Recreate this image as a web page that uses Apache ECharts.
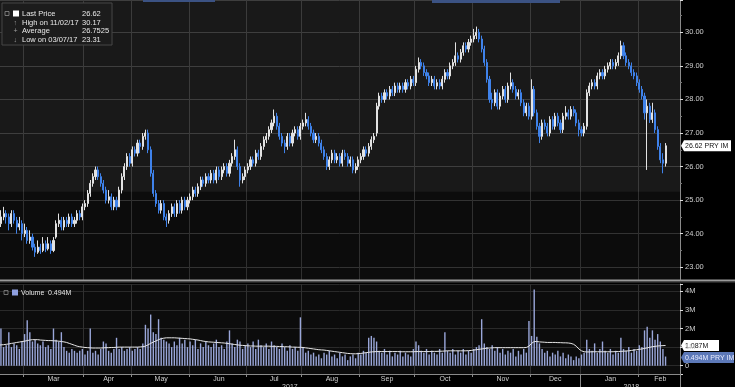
<!DOCTYPE html>
<html><head><meta charset="utf-8">
<script src="https://cdn.jsdelivr.net/npm/echarts@6/dist/echarts.min.js"></script>
<style>html,body{margin:0;padding:0;background:#000;overflow:hidden}#c{width:735px;height:387px;}</style>
</head><body><div id="c"></div>
<script>
// ---------- categories (Borsa Italiana trading days) ----------
const firstDay = '2017-02-15';
const tradingDays = 255;
const padDays = 5;
const holidays = ['2017-04-14','2017-04-17','2017-05-01','2017-08-15','2017-12-25','2017-12-26','2018-01-01'];
const monthNames = ['Jan','Feb','Mar','Apr','May','Jun','Jul','Aug','Sep','Oct','Nov','Dec'];

// ---------- price data ----------
const open = [
24.2,24.3,24.5,24.6,24.5,24.3,24.6,24.4,24.2,24.3,
24.0,24.1,23.8,23.9,23.6,23.45,23.6,23.5,23.7,23.55,
23.7,23.5,23.9,24.3,24.4,24.2,24.4,24.3,24.5,24.3,
24.4,24.6,24.5,24.8,24.9,25.2,25.5,25.7,25.9,25.7,
25.5,25.3,25.0,25.1,24.8,25.0,24.8,25.3,25.7,26.0,
26.3,26.1,26.5,26.4,26.7,26.6,26.9,27.0,26.5,25.8,
25.2,24.9,24.7,24.9,24.5,24.4,24.6,24.8,24.6,24.9,
24.7,25.0,24.8,25.0,25.1,25.3,25.2,25.4,25.6,25.5,
25.7,25.6,25.8,25.6,25.9,25.7,25.9,26.0,25.8,26.1,
26.3,26.5,26.0,25.6,25.7,25.9,26.0,26.2,26.1,26.4,
26.3,26.6,26.8,26.9,27.1,27.3,27.5,27.2,26.9,26.7,
26.6,26.9,26.7,27.0,27.1,26.9,27.2,27.3,27.4,27.2,
27.0,26.8,26.9,26.7,26.5,26.3,26.0,26.2,26.4,26.2,
26.3,26.1,26.4,26.3,26.1,26.2,25.9,26.0,26.2,26.3,
26.5,26.4,26.6,26.8,27.0,27.8,28.1,28.0,28.2,28.1,
28.3,28.2,28.4,28.3,28.4,28.3,28.5,28.4,28.6,28.5,
28.9,29.1,29.0,28.8,28.7,28.5,28.6,28.4,28.5,28.4,
28.6,28.8,28.7,29.0,29.1,29.3,29.2,29.4,29.6,29.5,
29.7,29.8,29.9,30.0,29.8,29.5,29.1,28.6,28.0,27.9,
28.2,27.8,28.1,28.3,28.0,28.4,28.5,28.3,28.1,28.2,
27.9,27.6,27.8,27.5,28.3,27.6,27.2,26.9,27.3,27.2,
27.0,27.4,27.2,27.5,27.3,27.1,27.5,27.6,27.5,27.7,
27.6,27.3,27.1,27.0,27.2,28.2,28.4,28.5,28.4,28.7,
28.8,28.7,28.9,29.0,29.1,29.0,29.1,29.3,29.6,29.3,
29.1,29.0,28.8,28.7,28.5,28.3,28.1,27.6,27.8,27.4,
27.6,27.1,26.6,26.2,26.1];
const close = [
24.3,24.5,24.6,24.5,24.3,24.6,24.4,24.2,24.3,24.0,
24.1,23.8,23.9,23.6,23.45,23.6,23.5,23.7,23.55,23.7,
23.5,23.8,24.3,24.4,24.2,24.4,24.3,24.5,24.3,24.4,
24.6,24.5,24.8,24.9,25.2,25.5,25.7,25.9,25.7,25.5,
25.3,25.0,25.1,24.8,25.0,24.8,25.3,25.7,26.0,26.3,
26.1,26.5,26.4,26.7,26.6,26.9,27.0,26.5,25.8,25.2,
24.9,24.7,24.9,24.5,24.4,24.6,24.8,24.6,24.9,24.7,
25.0,24.8,25.0,25.1,25.3,25.2,25.4,25.6,25.5,25.7,
25.6,25.8,25.6,25.9,25.7,25.9,26.0,25.8,26.1,26.3,
26.5,26.0,25.6,25.7,25.9,26.0,26.2,26.1,26.4,26.3,
26.6,26.8,26.9,27.1,27.3,27.5,27.2,26.9,26.7,26.6,
26.9,26.7,27.0,27.1,26.9,27.2,27.3,27.4,27.2,27.0,
26.8,26.9,26.7,26.5,26.3,26.0,26.2,26.4,26.2,26.3,
26.1,26.4,26.3,26.1,26.2,25.9,26.0,26.2,26.3,26.5,
26.4,26.6,26.8,26.9,27.8,28.1,28.0,28.2,28.1,28.3,
28.2,28.4,28.3,28.4,28.3,28.5,28.4,28.6,28.5,28.9,
29.1,29.0,28.8,28.7,28.5,28.6,28.4,28.5,28.4,28.6,
28.8,28.7,29.0,29.1,29.3,29.2,29.4,29.6,29.5,29.7,
29.8,29.9,30.0,29.8,29.5,29.1,28.6,28.0,27.9,28.2,
27.8,28.1,28.3,28.0,28.4,28.5,28.3,28.1,28.2,27.9,
27.6,27.8,27.5,28.3,27.6,27.2,26.9,27.3,27.2,27.0,
27.4,27.2,27.5,27.3,27.1,27.5,27.6,27.5,27.7,27.6,
27.3,27.1,27.0,27.2,28.2,28.4,28.5,28.4,28.7,28.8,
28.7,28.9,29.0,29.1,29.0,29.1,29.3,29.6,29.3,29.1,
29.0,28.8,28.7,28.5,28.3,28.1,27.6,27.8,27.4,27.6,
27.1,26.6,26.2,26.1,26.62];
const high = [
24.5,24.7,24.8,24.7,24.6,24.7,24.7,24.5,24.5,24.4,
24.3,24.2,24.1,24.0,23.7,23.8,23.7,23.9,23.8,23.9,
23.8,23.9,24.4,24.6,24.5,24.5,24.5,24.6,24.6,24.5,
24.7,24.7,24.9,25.0,25.3,25.6,25.8,26.0,26.0,25.8,
25.6,25.4,25.3,25.2,25.1,25.1,25.4,25.8,26.1,26.4,
26.4,26.6,26.6,26.8,26.8,27.0,27.1,27.1,26.6,25.9,
25.3,25.0,25.0,25.0,24.6,24.7,24.9,24.9,25.0,25.0,
25.1,25.1,25.1,25.2,25.4,25.4,25.5,25.7,25.7,25.8,
25.8,25.9,25.9,26.0,26.0,26.0,26.1,26.1,26.2,26.4,
26.8,26.6,26.1,25.8,26.0,26.1,26.3,26.3,26.5,26.5,
26.7,26.9,27.0,27.2,27.4,27.7,27.6,27.3,27.0,26.8,
27.0,27.0,27.1,27.2,27.2,27.3,27.4,27.6,27.5,27.3,
27.1,27.0,27.0,26.8,26.6,26.4,26.3,26.5,26.5,26.4,
26.4,26.5,26.5,26.4,26.3,26.3,26.1,26.3,26.4,26.6,
26.6,26.7,26.9,27.0,27.9,28.2,28.2,28.3,28.3,28.4,
28.4,28.5,28.5,28.5,28.5,28.6,28.6,28.7,28.7,29.0,
29.25,29.2,29.1,28.9,28.8,28.7,28.7,28.6,28.6,28.7,
28.9,28.9,29.1,29.2,29.7,29.4,29.5,29.7,29.7,29.8,
29.9,30.1,30.17,30.1,29.9,29.6,29.2,28.7,28.2,28.3,
28.3,28.2,28.4,28.4,28.5,28.8,28.6,28.4,28.3,28.3,
28.0,27.9,27.9,28.6,28.4,27.7,27.3,27.4,27.4,27.3,
27.5,27.5,27.6,27.6,27.4,27.6,27.8,27.7,27.8,27.8,
27.7,27.4,27.2,27.3,28.3,28.5,28.6,28.6,28.8,28.9,
28.9,29.0,29.1,29.2,29.2,29.2,29.4,29.75,29.7,29.4,
29.2,29.1,28.9,28.8,28.6,28.4,28.2,28.0,27.9,27.9,
27.7,27.2,26.7,26.4,26.7];
const low = [
24.0,24.2,24.4,24.3,24.1,24.2,24.3,24.0,24.1,23.8,
23.9,23.7,23.7,23.5,23.31,23.4,23.4,23.45,23.45,23.5,
23.4,23.45,23.85,24.2,24.1,24.1,24.2,24.2,24.2,24.2,
24.3,24.4,24.4,24.7,24.8,25.1,25.4,25.6,25.6,25.4,
25.2,24.9,24.9,24.7,24.7,24.7,24.8,25.2,25.6,25.9,
26.0,26.0,26.3,26.3,26.4,26.5,26.8,26.4,25.7,25.1,
24.8,24.6,24.6,24.4,24.2,24.3,24.5,24.5,24.5,24.6,
24.6,24.7,24.7,24.9,25.0,25.1,25.1,25.3,25.4,25.4,
25.5,25.5,25.5,25.5,25.6,25.6,25.8,25.7,25.7,26.0,
26.2,25.9,25.4,25.5,25.6,25.8,25.9,26.0,26.0,26.2,
26.2,26.5,26.7,26.8,27.0,27.2,27.1,26.8,26.6,26.4,
26.5,26.6,26.6,26.9,26.8,26.8,27.1,27.2,27.1,26.9,
26.7,26.7,26.6,26.4,26.2,25.9,25.9,26.1,26.1,26.1,
26.0,26.0,26.2,26.0,26.0,25.8,25.8,25.9,26.1,26.2,
26.3,26.3,26.5,26.7,26.9,27.7,27.9,27.9,28.0,28.0,
28.1,28.1,28.2,28.2,28.2,28.2,28.3,28.3,28.4,28.4,
28.8,28.9,28.7,28.6,28.4,28.4,28.3,28.3,28.3,28.3,
28.5,28.6,28.6,28.9,29.0,29.1,29.1,29.3,29.4,29.4,
29.6,29.7,29.8,29.7,29.4,29.0,28.5,27.9,27.7,27.8,
27.7,27.7,28.0,27.9,27.9,28.3,28.2,28.0,28.0,27.8,
27.5,27.5,27.4,27.4,27.5,27.1,26.7,26.8,27.1,26.9,
26.9,27.1,27.1,27.2,27.0,27.0,27.4,27.4,27.4,27.5,
27.2,26.9,26.9,26.9,27.1,28.1,28.3,28.3,28.3,28.6,
28.6,28.6,28.8,28.9,28.9,28.9,29.0,29.2,29.2,29.0,
28.9,28.7,28.6,28.4,28.2,28.0,27.4,25.9,27.3,27.3,
27.0,26.5,26.1,25.8,26.0];

// ---------- volume (millions) ----------
const volume = [
1.2,2.0,1.0,1.1,1.8,1.0,1.2,1.1,0.9,1.3,
1.7,2.45,1.8,1.3,1.4,1.2,1.1,1.3,1.0,1.1,
0.9,2.0,1.4,1.3,1.8,1.0,0.8,0.7,0.9,0.8,
0.7,0.8,0.9,0.6,0.8,2.0,0.7,0.8,0.6,0.9,
1.3,1.2,0.8,0.7,0.9,1.5,0.9,1.0,0.8,0.9,
1.0,0.8,0.9,1.0,0.9,1.2,2.2,2.0,2.75,1.8,
1.7,2.5,1.5,1.4,1.3,1.2,1.0,1.3,1.1,1.5,
1.2,1.4,1.0,1.3,1.1,1.4,0.9,1.2,1.0,1.3,
1.1,1.0,1.2,1.4,1.0,1.1,0.9,1.3,1.9,1.2,
1.0,1.4,1.3,0.9,1.1,1.2,1.0,1.3,0.9,1.4,
1.1,1.0,1.2,0.9,1.3,1.1,1.0,0.9,1.2,1.0,
0.8,1.1,0.9,1.0,0.8,2.6,1.0,0.7,0.8,0.6,
0.7,0.5,0.6,0.4,0.7,0.6,0.8,0.5,0.6,0.4,
0.7,0.5,0.6,0.3,0.5,0.6,0.4,0.7,0.6,0.8,
0.7,1.5,1.6,1.5,1.3,0.8,0.7,0.9,0.6,0.8,
0.5,0.7,0.6,0.8,0.5,0.7,0.6,0.5,0.9,1.3,
1.1,0.8,0.7,0.9,0.6,0.8,0.7,0.6,0.9,0.7,
1.8,0.8,0.7,0.9,0.6,0.8,0.7,0.9,0.6,0.8,
0.7,0.9,1.0,1.1,2.5,1.2,1.0,0.9,1.1,0.8,
1.0,0.7,0.9,0.6,0.8,0.7,0.9,0.5,0.8,0.6,
0.9,0.7,2.4,1.6,4.1,1.55,1.2,0.9,0.7,0.8,
0.5,0.7,0.6,0.8,0.5,0.7,0.4,0.6,0.5,0.3,
0.5,0.4,0.6,0.7,1.4,0.9,0.8,1.2,0.7,0.9,
1.3,0.8,0.7,0.9,0.6,0.8,0.7,1.5,0.9,0.8,
1.0,0.7,0.9,0.8,1.1,1.0,1.9,2.1,1.5,1.9,
1.4,1.7,1.3,0.9,0.494];
// volume average line (millions)
const volumeAvg = [
1.1,1.12,1.13,1.15,1.17,1.2,1.22,1.25,1.27,1.3,
1.32,1.35,1.38,1.4,1.4,1.4,1.38,1.37,1.36,1.35,
1.35,1.34,1.33,1.32,1.3,1.28,1.25,1.2,1.15,1.1,
1.05,1.02,1.0,0.98,0.97,0.96,0.95,0.95,0.95,0.95,
0.96,0.97,0.97,0.98,0.98,0.99,1.0,1.0,1.0,1.0,
1.0,1.0,1.0,1.0,1.01,1.02,1.05,1.12,1.2,1.27,
1.33,1.4,1.45,1.48,1.5,1.5,1.5,1.5,1.49,1.48,
1.47,1.46,1.45,1.44,1.42,1.4,1.38,1.35,1.32,1.3,
1.28,1.27,1.26,1.25,1.24,1.23,1.22,1.2,1.18,1.16,
1.14,1.12,1.1,1.09,1.08,1.07,1.06,1.06,1.05,1.05,
1.05,1.05,1.05,1.05,1.04,1.04,1.04,1.03,1.03,1.02,
1.02,1.01,1.0,1.0,0.99,0.99,0.98,0.96,0.94,0.92,
0.9,0.88,0.86,0.85,0.84,0.82,0.8,0.78,0.76,0.74,
0.72,0.7,0.68,0.66,0.65,0.64,0.64,0.65,0.66,0.68,
0.7,0.72,0.74,0.75,0.76,0.76,0.76,0.76,0.76,0.76,
0.76,0.76,0.76,0.75,0.75,0.75,0.75,0.75,0.75,0.76,
0.76,0.76,0.76,0.76,0.76,0.77,0.77,0.77,0.78,0.78,
0.79,0.8,0.8,0.8,0.8,0.8,0.8,0.8,0.8,0.81,
0.82,0.84,0.86,0.88,0.9,0.92,0.94,0.95,0.96,0.97,
0.97,0.97,0.97,0.97,0.97,0.97,0.97,0.97,0.97,0.97,
0.97,0.98,1.05,1.2,1.3,1.3,1.28,1.27,1.26,1.25,
1.25,1.25,1.25,1.24,1.24,1.23,1.23,1.22,1.2,1.15,
1.05,0.9,0.8,0.75,0.74,0.74,0.75,0.75,0.75,0.75,
0.75,0.75,0.75,0.75,0.75,0.76,0.76,0.77,0.78,0.79,
0.8,0.82,0.84,0.86,0.88,0.9,0.93,0.96,0.99,1.02,
1.04,1.06,1.07,1.08,1.087];

// ---------- texts ----------
const ticker = 'PRY IM';
const legendRows = [
  ['Last Price', '26.62'],
  ['High on 11/02/17', '30.17'],
  ['Average', '26.7525'],
  ['Low on 03/07/17', '23.31']
];
const volumeLegend = ['Volume', '0.494M'];
const volumeAvgLabel = '1.087M';
const shadeFrom = 25.25;

// ---------- build calendar ----------
function buildDates() {
  const out = [];
  const d = new Date(firstDay + 'T00:00:00Z');
  while (out.length < tradingDays + padDays) {
    const wd = d.getUTCDay();
    const s = d.toISOString().slice(0, 10);
    if (wd !== 0 && wd !== 6 && holidays.indexOf(s) < 0) out.push(s);
    d.setUTCDate(d.getUTCDate() + 1);
  }
  return out;
}
const dates = buildDates();
const monthStart = new Set(), monthLabel = new Map(), yearLabel = new Map();
let yearStartIdx = 0;
(function () {
  const groups = [];
  dates.forEach((s, i) => {
    const k = s.slice(0, 7);
    if (!groups.length || groups[groups.length - 1].k !== k) groups.push({k, a: i, b: i});
    else groups[groups.length - 1].b = i;
  });
  groups.forEach((g, gi) => {
    if (gi > 0) monthStart.add(g.a);
    if (gi > 0) monthLabel.set(Math.round((g.a + g.b) / 2), monthNames[+g.k.slice(5, 7) - 1]);
  });
  const ygroups = [];
  dates.forEach((s, i) => {
    const k = s.slice(0, 4);
    if (!ygroups.length || ygroups[ygroups.length - 1].k !== k) ygroups.push({k, a: i, b: i});
    else ygroups[ygroups.length - 1].b = i;
  });
  ygroups.forEach(g => yearLabel.set(Math.round((g.a + g.b) / 2), g.k));
  yearStartIdx = ygroups[1].a;
})();

const candleData = close.map((c, i) => [open[i], c, low[i], high[i]]);

// ---------- layout ----------
const FONT = 'Liberation Sans, Arial, sans-serif';
const PMAX = 30.962, PMIN = 22.621;
const VMAX = 4.392, VMIN = -0.446;
const isInt = v => Math.abs(v - Math.round(v)) < 1e-6;

const chart = echarts.init(document.getElementById('c'), null, {renderer: 'canvas'});
const option = {
  backgroundColor: '#000',
  animation: false,
  textStyle: {fontFamily: FONT},
  grid: [
    {left: -3, top: 0, width: 683, height: 280, show: true, backgroundColor: '#0c0c0c', borderWidth: 0,
      containLabel: false, outerBoundsMode: 'none'},
    {left: -3, top: 284, width: 683, height: 90, show: true, backgroundColor: '#0c0c0c', borderWidth: 0,
      containLabel: false, outerBoundsMode: 'none'}
  ],
  xAxis: [
    {type: 'category', gridIndex: 0, data: dates, boundaryGap: true,
      axisLine: {show: false, onZero: false}, axisTick: {show: false}, axisLabel: {show: false},
      splitLine: {show: true, interval: i => monthStart.has(i), lineStyle: {color: '#303030', width: 1}}},
    {type: 'category', gridIndex: 1, data: dates, boundaryGap: true,
      axisLine: {show: true, onZero: false, lineStyle: {color: '#8a8a8a', width: 1}},
      axisTick: {show: true, interval: i => monthStart.has(i), length: 3, lineStyle: {color: '#8a8a8a'}},
      axisLabel: {show: true, interval: i => monthLabel.has(i), formatter: (v, i) => monthLabel.get(i) || '',
        color: '#cfcfcf', fontSize: 7, margin: 2, fontFamily: FONT},
      splitLine: {show: true, interval: i => monthStart.has(i), lineStyle: {color: '#303030', width: 1}}},
    {type: 'category', gridIndex: 1, data: dates, boundaryGap: true, position: 'bottom',
      axisLine: {show: false, onZero: false},
      axisTick: {show: true, interval: i => i === 0 || i === yearStartIdx, length: 13, lineStyle: {color: '#8a8a8a'}},
      axisLabel: {show: true, interval: i => yearLabel.has(i), formatter: (v, i) => yearLabel.get(i) || '',
        color: '#cfcfcf', fontSize: 7, margin: 10, fontFamily: FONT},
      splitLine: {show: false}}
  ],
  yAxis: [
    {type: 'value', gridIndex: 0, position: 'right', min: PMIN, max: PMAX, splitNumber: 8, minInterval: 1, maxInterval: 1,
      axisLine: {show: true, lineStyle: {color: '#8a8a8a'}},
      axisTick: {show: true, length: 3, lineStyle: {color: '#dddddd'}},
      minorTick: {show: true, splitNumber: 2, length: 2, lineStyle: {color: '#777'}},
      axisLabel: {color: '#cfcfcf', fontSize: 7.5, margin: 5, fontFamily: FONT,
        formatter: v => isInt(v) ? v.toFixed(2) : ''},
      splitLine: {show: true, lineStyle: {color: '#333333', width: 1}}},
    {type: 'value', gridIndex: 1, position: 'right', min: VMIN, max: VMAX, splitNumber: 4, minInterval: 1, maxInterval: 1,
      axisLine: {show: true, lineStyle: {color: '#8a8a8a'}},
      axisTick: {show: true, length: 3, lineStyle: {color: '#dddddd'}},
      axisLabel: {color: '#cfcfcf', fontSize: 7.5, margin: 5, fontFamily: FONT,
        formatter: v => (isInt(v) && v >= 0) ? (Math.round(v) === 0 ? '0' : Math.round(v) + 'M') : ''},
      splitLine: {show: true, lineStyle: {color: '#2a2a2a', width: 1}}}
  ],
  series: [
    {type: 'candlestick', name: 'Last Price', xAxisIndex: 0, yAxisIndex: 0, data: candleData, barWidth: 1.6,
      itemStyle: {color: '#e2e2e2', color0: '#3f82ea', borderColor: '#e2e2e2', borderColor0: '#3f82ea', borderWidth: 1},
      markArea: {silent: true, itemStyle: {color: 'rgba(255,255,255,0.055)'}, data: [[{yAxis: shadeFrom}, {yAxis: PMAX}]]}},
    {type: 'bar', name: 'Volume', xAxisIndex: 1, yAxisIndex: 1, data: volume, barWidth: 1.4,
      itemStyle: {color: '#9aa7da'}},
    {type: 'line', name: 'Volume avg', xAxisIndex: 1, yAxisIndex: 1, data: volumeAvg, symbol: 'none',
      lineStyle: {color: '#e6e6e6', width: 1}}
  ]
};
chart.setOption(option);

// ---------- overlays ----------
const yLast = chart.convertToPixel({yAxisIndex: 0}, close[close.length - 1]);
const yVolAvg = chart.convertToPixel({yAxisIndex: 1}, volumeAvg[volumeAvg.length - 1]);
const yVol = chart.convertToPixel({yAxisIndex: 1}, volume[volume.length - 1]);

function tag(y, text, fill, color, w) {
  return {type: 'group', x: 681, y: y, z: 100, children: [
    {type: 'polygon', shape: {points: [[0, 0], [3, -5.5], [w, -5.5], [w, 5.5], [3, 5.5]]}, style: {fill: fill}},
    {type: 'text', x: 4, y: 0.5, style: {text: text, fill: color, font: '7px ' + FONT, verticalAlign: 'middle'}}
  ]};
}
const icons = ['', '\u2191', '+', '\u2193'];
const legendChildren = [
  {type: 'rect', shape: {x: 0, y: 0, width: 110, height: 42}, style: {fill: '#0f0f0f', stroke: '#3c3c3c', lineWidth: 1}},
  {type: 'rect', shape: {x: 3, y: 8.5, width: 4, height: 4}, style: {fill: 'none', stroke: '#888', lineWidth: 0.8}},
  {type: 'rect', shape: {x: 11, y: 7.5, width: 6, height: 6}, style: {fill: '#ffffff'}}
];
legendRows.forEach((r, k) => {
  const y = 11 + k * 8.7;
  if (icons[k]) legendChildren.push({type: 'text', x: 11.5, y: y, style: {text: icons[k], fill: '#9a9a9a', font: '7px ' + FONT, verticalAlign: 'middle'}});
  legendChildren.push({type: 'text', x: 20, y: y, style: {text: r[0], fill: '#e6e6e6', font: '7.5px ' + FONT, verticalAlign: 'middle'}});
  legendChildren.push({type: 'text', x: 80, y: y, style: {text: r[1], fill: '#e6e6e6', font: '7.5px ' + FONT, verticalAlign: 'middle'}});
});

chart.setOption({graphic: [
  {type: 'rect', z: 90, shape: {x: 143, y: 0, width: 72, height: 2}, style: {fill: '#3b5283'}},
  {type: 'rect', z: 90, shape: {x: 432, y: 0, width: 128, height: 3}, style: {fill: '#3b5283'}},
  {type: 'rect', z: 90, shape: {x: 0, y: 279.5, width: 735, height: 2}, style: {fill: '#9a9a9a'}},
  {type: 'rect', z: 90, shape: {x: 0, y: 281.5, width: 735, height: 1}, style: {fill: '#4a4a4a'}},
  {type: 'group', x: 2, y: 3, z: 100, children: legendChildren},
  {type: 'group', x: 2, y: 287, z: 100, children: [
    {type: 'rect', shape: {x: 2, y: 3.5, width: 4, height: 4}, style: {fill: 'none', stroke: '#888', lineWidth: 0.8}},
    {type: 'rect', shape: {x: 10, y: 2.5, width: 6, height: 6}, style: {fill: '#8fa0e0'}},
    {type: 'text', x: 19, y: 6, style: {text: volumeLegend[0], fill: '#e6e6e6', font: '7px ' + FONT, verticalAlign: 'middle'}},
    {type: 'text', x: 46, y: 6, style: {text: volumeLegend[1], fill: '#e6e6e6', font: '7px ' + FONT, verticalAlign: 'middle'}}
  ]},
  tag(yLast, close[close.length - 1].toFixed(2) + ' ' + ticker, '#ffffff', '#111111', 50),
  tag(yVolAvg, volumeAvgLabel, '#ffffff', '#111111', 38),
  tag(yVol + 1, volume[volume.length - 1].toFixed(3) + 'M ' + ticker, '#5c78b8', '#e8ecff', 53)
]});
</script>
</body></html>
